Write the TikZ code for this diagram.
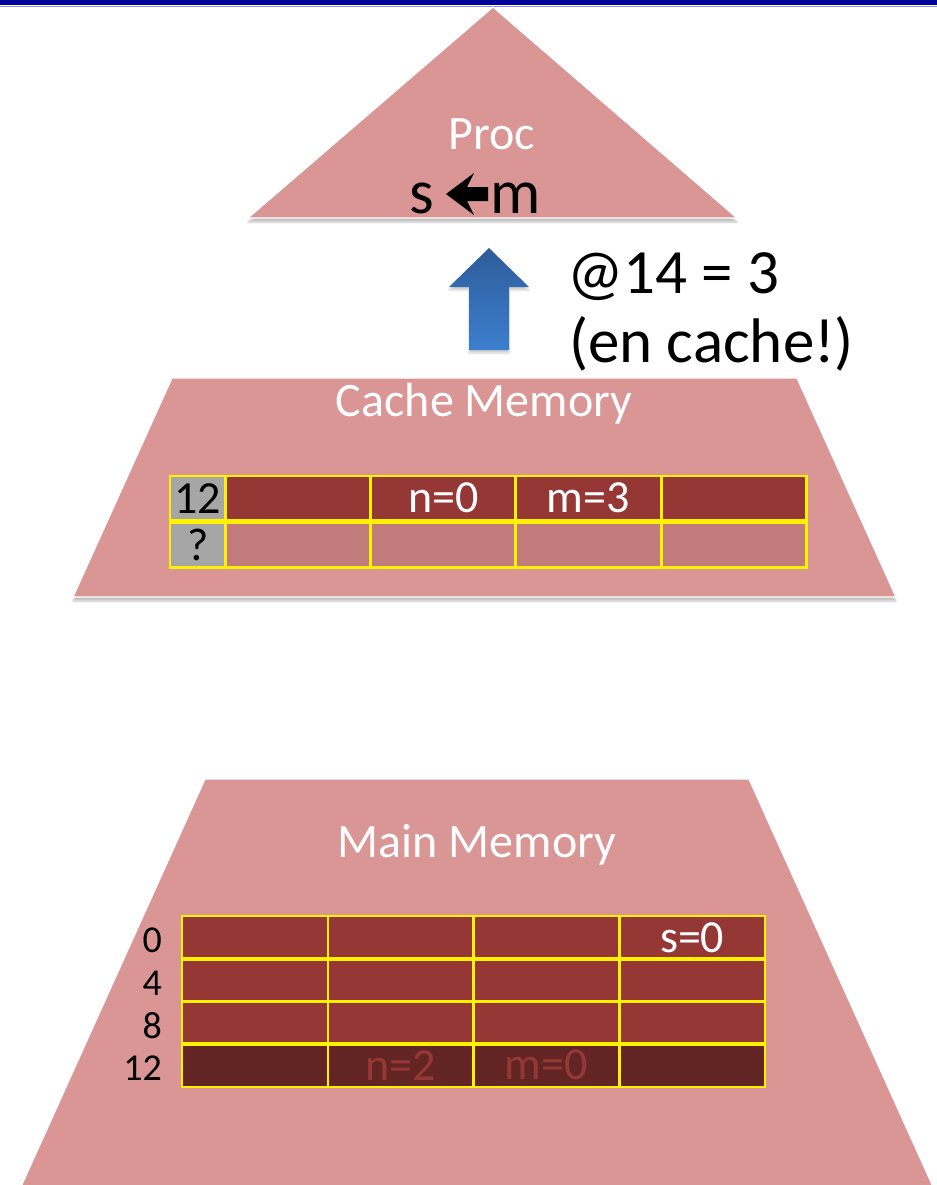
\documentclass[tikz,border=0pt]{standalone}
\usepackage{fontspec}
\setmainfont{Carlito}
\definecolor{levelPink}{HTML}{D99694}
\definecolor{cellRed}{HTML}{953735}
\definecolor{cellDark}{HTML}{632523}
\definecolor{cellFaded}{HTML}{C17B7A}
\definecolor{tagGray}{HTML}{A6A6A6}
\definecolor{barBlue}{HTML}{00009A}
\definecolor{barLine}{HTML}{8C8CD0}
\definecolor{fetchTop}{HTML}{2E5C99}
\definecolor{fetchBottom}{HTML}{3C7FCF}
\usetikzlibrary{positioning, shadows.blur}

\begin{document}
\begin{tikzpicture}[
    x=1bp, y=-1bp,
    level/.style={fill=levelPink, draw=white, line width=1.2bp,
                  blur shadow={shadow xshift=0bp, shadow yshift=-4bp, shadow blur steps=6, shadow opacity=25}},
    title/.style={text=white, inner sep=0pt, anchor=base, font=\fontsize{48bp}{52bp}\selectfont},
    callout/.style={text=black, inner sep=0pt, font=\fontsize{63bp}{69bp}\selectfont},
    cell/.style={fill=cellRed, inner sep=0pt, anchor=north west,
                 minimum width=145.5bp, minimum height=43bp, text=white, font=\fontsize{46bp}{50bp}\selectfont},
    tag/.style={cell, fill=tagGray, text=black, minimum width=55bp, minimum height=44bp},
    frame/.style={draw=yellow, line width=2.5bp},
    rowlabel/.style={text=black, inner sep=0pt, anchor=east, font=\fontsize{38bp}{40bp}\selectfont}
  ]
    \useasboundingbox (0,0) rectangle (937,1185);
    \clip (0,0) rectangle (937,1185);
    % slide bar
    \fill[barBlue] (0,0) rectangle (937,5);
    \draw[barLine, line width=1.5bp] (0,6.5) -- (937,6.5);

    % the three levels
    \path[level] (493,7) -- (737,218) -- (248,218) -- cycle;
    \path[level] (172,378) -- (797,378) -- (896,597) -- (73,597) -- cycle;
    \path[level] (205,779) -- (749,779) -- (939,1200) -- (15,1200) -- cycle;

    \node[title] (proc) at (492,149) {Proc};
    \node[callout, anchor=base east] (op-dst) at (434,213) {s};
    \node[callout, anchor=base west] (op-src) at (490,213) {m};
    \fill (446,194) -- (474,173) -- (467,187) -- (488,187) -- (488,201) -- (467,201) -- (474,215) -- cycle;
    \node[title] (cache) at (484,416) {Cache Memory};
    \node[title] (main) at (477,857) {Main Memory};

    % fetch from cache to processor
    \shade[top color=fetchTop, bottom color=fetchBottom,
           blur shadow={shadow xshift=0bp, shadow yshift=-3bp, shadow opacity=20}]
      (489,248) -- (529,287) -- (509,287) -- (509,350) -- (469,350) -- (469,287) -- (449,287) -- cycle;
    \node[callout, anchor=base west] (hit) at (567,293) {@14 = 3};
    \node[callout, anchor=base west] (hit-note) at (569,362) {(en cache!)};

    % cache lines
    \node[tag] (cache-tag-0) at (170,476) {12};
    \foreach \c/\txt in {0/,1/n=0,2/m=3,3/}
      \node[cell, minimum height=44bp] (cache-0-\c) at ({225+145.25*\c},476) {\txt};
    \node[tag] (cache-tag-1) at (170,523) {?};
    \foreach \c in {0,...,3}
      \node[cell, fill=cellFaded, minimum height=44bp] (cache-1-\c) at ({225+145.25*\c},523) {};
    \foreach \r in {0,1} {
      \draw[frame] (cache-tag-\r.north west) rectangle (cache-tag-\r.south east);
      \foreach \c in {0,...,3}
        \draw[frame] (cache-\r-\c.north west) rectangle (cache-\r-\c.south east);
    }

    % main memory words
    \foreach \c/\txt in {0/,1/,2/,3/s=0}
      \node[cell] (main-0-\c) at ({182+145.75*\c},916) {\txt};
    \foreach \r in {1,2}
      \foreach \c in {0,...,3}
        \node[cell] (main-\r-\c) at ({182+145.75*\c},{916+42.5*\r}) {};
    \foreach \c/\txt in {0/,1/n=2,2/m=0,3/}
      \node[cell, fill=cellDark, text=cellRed] (main-3-\c) at ({182+145.75*\c},1043.5) {\txt};
    \foreach \r in {0,...,3}
      \foreach \c in {0,...,3}
        \draw[frame] (main-\r-\c.north west) rectangle (main-\r-\c.south east);
    \foreach \r/\lbl in {0/0,1/4,2/8,3/12}
      \node[rowlabel, left=20bp of main-\r-0, yshift=-3bp] (addr-\r) {\lbl};
  \end{tikzpicture}
\end{document}
